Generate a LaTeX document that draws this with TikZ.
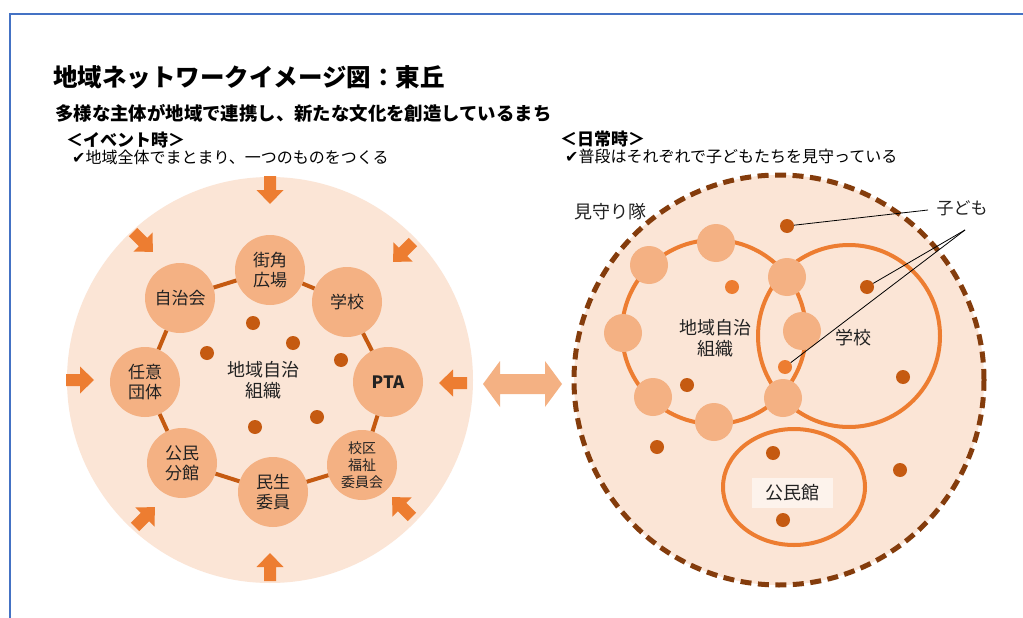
\documentclass[tikz,border=0pt]{standalone}
\usepackage{fontspec}
\setmainfont{Noto Sans CJK JP}
\newfontfamily\symfont{DejaVu Sans}
\usetikzlibrary{calc}
\definecolor{bgpeach}{HTML}{FBE5D6}
\definecolor{nodeorange}{HTML}{F4B183}
\definecolor{darkorange}{HTML}{C55A11}
\definecolor{midorange}{HTML}{ED7D31}
\definecolor{dashbrown}{HTML}{843C0C}
\definecolor{frameblue}{HTML}{4472C4}
\definecolor{txt}{HTML}{222222}
\tikzset{
  member/.style={circle, fill=nodeorange, minimum size=70pt, inner sep=0pt, align=center,
    font=\fontsize{17}{20}\selectfont, text=txt},
  link/.style={draw=darkorange, line width=4pt},
  kid/.style={circle, fill=darkorange, minimum size=14pt, inner sep=0pt},
  lkid/.style={circle, fill=midorange, minimum size=14pt, inner sep=0pt},
  smallorg/.style={circle, fill=nodeorange, minimum size=38pt, inner sep=0pt},
  orgring/.style={draw=midorange, line width=4pt},
  leader/.style={draw=black, line width=0.8pt},
  txtlabel/.style={font=\fontsize{18}{21}\selectfont, text=txt, align=center, inner sep=0pt},
  headtxt/.style={anchor=west, inner sep=0pt, text=black},
  pics/inarrow/.style={code={
    \fill[midorange] (-14pt,-6pt) -- (0pt,-6pt) -- (0pt,-13.5pt) -- (14pt,0pt) -- (0pt,13.5pt) -- (0pt,6pt) -- (-14pt,6pt) -- cycle;}},
}
\begin{document}
\begin{tikzpicture}[x=1pt,y=-1pt]
\useasboundingbox (0,0) rectangle (1023,618);
\fill[white] (0,0) rectangle (1023,618);
\draw[frameblue, line width=2pt] (9.5,618) -- (9.5,14) -- (1023,14);

% headings
\node[headtxt, font=\fontsize{24.5}{28}\selectfont\bfseries] (title) at (53,77) {地域ネットワークイメージ図：東丘};
\node[headtxt, font=\fontsize{18.4}{22}\selectfont\bfseries] (subtitle) at (55,113) {多様な主体が地域で連携し、新たな文化を創造しているまち};
\node[headtxt, font=\fontsize{17}{20}\selectfont\bfseries] (evhead) at (66,140) {＜イベント時＞};
\node[headtxt, font=\fontsize{16}{19}\selectfont] (evtext) at (72,157) {{\symfont ✔}地域全体でまとまり、一つのものをつくる};
\node[headtxt, font=\fontsize{17}{20}\selectfont\bfseries] (dyhead) at (560,139) {＜日常時＞};
\node[headtxt, font=\fontsize{16}{19}\selectfont] (dytext) at (565,156) {{\symfont ✔}普段はそれぞれで子どもたちを見守っている};

% ---------- left: event ----------
\fill[bgpeach] (270,380) circle (203pt);
\pic[rotate=-90] at (270,190) {inarrow};
\pic[rotate=-45] at (143,242) {inarrow};
\pic[rotate=-135] at (403,252) {inarrow};
\pic[rotate=0] at (80,380) {inarrow};
\pic[rotate=180] at (453,383) {inarrow};
\pic[rotate=45] at (145,517) {inarrow};
\pic[rotate=135] at (402,507) {inarrow};
\pic[rotate=90] at (270,567) {inarrow};

\node[member] (machi) at (270,270) {街角\\広場};
\node[member] (gakko) at (347,302) {学校};
\node[member, font=\fontsize{17}{20}\selectfont\bfseries] (pta) at (388,382) {PTA};
\node[member, font=\fontsize{14}{17}\selectfont] (fukushi) at (362,465) {校区\\福祉\\委員会};
\node[member] (minsei) at (273,492) {民生\\委員};
\node[member] (bunkan) at (182,463) {公民\\分館};
\node[member] (nini) at (145,382) {任意\\団体};
\node[member] (jichikai) at (180,298) {自治会};
\draw[link] (machi) -- (gakko);
\draw[link] (gakko) -- (pta);
\draw[link] (pta) -- (fukushi);
\draw[link] (fukushi) -- (minsei);
\draw[link] (minsei) -- (bunkan);
\draw[link] (bunkan) -- (nini);
\draw[link] (nini) -- (jichikai);
\draw[link] (jichikai) -- (machi);

\node[txtlabel] (leftorg) at (263,380) {地域自治\\組織};
\node[kid] (ld1) at (253,323) {};
\node[kid] (ld2) at (293,343) {};
\node[kid] (ld3) at (207,353) {};
\node[kid] (ld4) at (341,360) {};
\node[kid] (ld5) at (317,417) {};
\node[kid] (ld6) at (255,427) {};

% double arrow
\fill[nodeorange] (483,384) -- (500,361) -- (500,374) -- (545,374) -- (545,361) -- (562,384)
  -- (545,407) -- (545,394) -- (500,394) -- (500,407) -- cycle;

% ---------- right: everyday ----------
\draw[dashbrown, line width=5pt, dash pattern=on 11pt off 6.5pt, fill=bgpeach] (779,380) circle (205pt);
\draw[orgring] (714,332) circle (92pt);
\draw[orgring] (849,336) circle (91pt);
\draw[orgring] (794,487) ellipse (71pt and 58pt);

\node[smallorg] (o1) at (716,243) {};
\node[smallorg] (o2) at (649,265) {};
\node[smallorg] (o3) at (787,277) {};
\node[smallorg] (o4) at (623,333) {};
\node[smallorg] (o5) at (802,331) {};
\node[smallorg] (o6) at (653,397) {};
\node[smallorg] (o7) at (714,422) {};
\node[smallorg] (o8) at (783,398) {};

\node[kid] (k1) at (787,226) {};
\node[kid] (k2) at (867,287) {};
\node[lkid] (k3) at (785,367) {};
\node[lkid] (k4) at (732,287) {};
\node[kid] (k5) at (687,385) {};
\node[kid] (k6) at (903,377) {};
\node[kid] (k7) at (657,447) {};
\node[kid] (k8) at (773,453) {};
\node[kid] (k9) at (900,470) {};
\node[kid] (k10) at (783,520) {};

\node[txtlabel] (rightorg) at (715,338) {地域自治\\組織};
\node[txtlabel] (rgakko) at (853,338) {学校};
\node[txtlabel, fill=white, fill opacity=0.55, text opacity=1, minimum width=81pt, minimum height=30pt] (kominkan) at (792,493) {公民館};
\node[txtlabel] (mimamori) at (610,212) {見守り隊};
\node[txtlabel, font=\fontsize{17}{20}\selectfont] (kodomo) at (962,208) {子ども};

\coordinate (kodomoL) at (928,210);
\coordinate (kodomoV) at (965,230);
\draw[leader] (kodomoL) -- (k1);
\draw[leader] (kodomoV) -- (k2);
\draw[leader] (kodomoV) -- (k3);
\end{tikzpicture}
\end{document}
